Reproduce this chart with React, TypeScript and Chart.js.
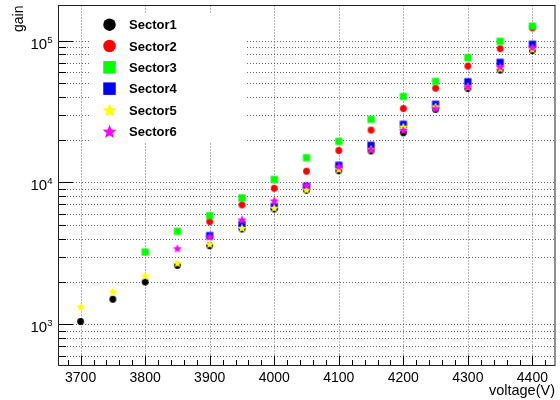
import React, { useEffect, useRef } from "react";
import { Chart, registerables } from "chart.js";

Chart.register(...registerables);

// ---- data ----
const voltages = [3700, 3750, 3800, 3850, 3900, 3950, 4000, 4050, 4100, 4150, 4200, 4250, 4300, 4350, 4400];
const sector1 = [1045, 1500, 1985, 2600, 3580, 4700, 6500, 8800, 12100, 16700, 22400, 32800, 46000, 62000, 85000];
const sector2 = [null, null, null, null, 5300, 6950, 9100, 12000, 16800, 23400, 33200, 46200, 66200, 87800, 123000];
const sector3 = [null, null, 3230, 4520, 5840, 7780, 10500, 14950, 19500, 27900, 40400, 51600, 75800, 99000, 126500];
const sector4 = [null, null, null, null, 4220, 5050, 6750, 9400, 13200, 18300, 25700, 35600, 51300, 70300, 94300];
const sector5 = [1330, 1700, 2200, 2700, 3680, 4780, 6620, 8900, 12400, 17200, 24700, 34300, 47300, 63700, 87000];
const sector6 = [null, null, null, 3430, 4150, 5470, 7450, 9570, 12950, 17100, 23400, 33200, 47500, 65500, 89800];

const seriesNames = ["Sector1", "Sector2", "Sector3", "Sector4", "Sector5", "Sector6"];
const seriesValues = [sector1, sector2, sector3, sector4, sector5, sector6];
const seriesColors = ["#000000", "#ff0000", "#00ff00", "#0000ff", "#ffff00", "#ff00ff"];
const seriesShapes = ["circle", "circle", "square", "square", "star", "star"];

const xTickValues = [3700, 3800, 3900, 4000, 4100, 4200, 4300, 4400];
const xTickLabels = ["3700", "3800", "3900", "4000", "4100", "4200", "4300", "4400"];
const yDecades = [1000, 10000, 100000];
const yDecadeExponents = ["3", "4", "5"];

const X_MIN = 3665;
const X_MAX = 4435;
const Y_MIN = 512;
const Y_MAX = 177000;

const FONT = "'Liberation Sans', Arial, Helvetica, sans-serif";

function markerPath(ctx: CanvasRenderingContext2D, shape: string, x: number, y: number, size: number) {
  ctx.beginPath();
  if (shape === "circle") {
    ctx.arc(x, y, size / 2, 0, Math.PI * 2);
  } else if (shape === "square") {
    ctx.rect(x - size / 2, y - size / 2, size, size);
  } else {
    const R = size / 2;
    const r = R * 0.45;
    for (let k = 0; k < 10; k++) {
      const ang = -Math.PI / 2 + (k * Math.PI) / 5;
      const rad = k % 2 === 0 ? R : r;
      const px = x + rad * Math.cos(ang);
      const py = y + rad * Math.sin(ang) + R * 0.1;
      if (k === 0) ctx.moveTo(px, py);
      else ctx.lineTo(px, py);
    }
    ctx.closePath();
  }
}

function plotSize(shape: string) {
  if (shape === "circle") return 6.8;
  if (shape === "square") return 7.2;
  return 9.5;
}
function legendSize(shape: string) {
  if (shape === "circle") return 12.5;
  if (shape === "square") return 12.5;
  return 14.5;
}

function makeMarkerImage(shape: string, color: string) {
  const s = plotSize(shape);
  const n = Math.ceil(s) + 2;
  const c = document.createElement("canvas");
  c.width = n;
  c.height = n;
  const ctx = c.getContext("2d")!;
  ctx.fillStyle = color;
  markerPath(ctx, shape, n / 2, n / 2, s);
  ctx.fill();
  return c;
}

const framePlugin = {
  id: "rootFrame",
  beforeDraw(chart: any) {
    const ctx = chart.ctx as CanvasRenderingContext2D;
    ctx.save();
    ctx.fillStyle = "#ffffff";
    ctx.fillRect(0, 0, chart.width, chart.height);
    ctx.restore();
  },
  beforeDatasetsDraw(chart: any) {
    const ctx = chart.ctx as CanvasRenderingContext2D;
    const area = chart.chartArea;
    const xs = chart.scales.x;
    const ys = chart.scales.y;
    ctx.save();
    // grid lines
    ctx.strokeStyle = "#666666";
    ctx.lineWidth = 1;
    ctx.setLineDash([1, 2]);
    for (const v of xTickValues) {
      const px = Math.round(xs.getPixelForValue(v)) + 0.5;
      ctx.beginPath();
      ctx.moveTo(px, area.top);
      ctx.lineTo(px, area.bottom);
      ctx.stroke();
    }
    const yGrid: { v: number; major: boolean }[] = [];
    for (const d of [100, 1000, 10000, 100000]) {
      for (let m = 1; m <= 9; m++) {
        const v = d * m;
        if (v >= Y_MIN && v <= Y_MAX) yGrid.push({ v, major: m === 1 });
      }
    }
    for (const g of yGrid) {
      const py = Math.round(ys.getPixelForValue(g.v)) + 0.5;
      ctx.beginPath();
      ctx.moveTo(area.left, py);
      ctx.lineTo(area.right, py);
      ctx.stroke();
    }
    ctx.setLineDash([]);
    ctx.strokeStyle = "#000000";
    // y ticks
    for (const g of yGrid) {
      const py = Math.round(ys.getPixelForValue(g.v)) + 0.5;
      ctx.beginPath();
      ctx.moveTo(area.left, py);
      ctx.lineTo(area.left + (g.major ? 15 : 8), py);
      ctx.stroke();
    }
    // x ticks
    for (let v = 3680; v <= 4420; v += 20) {
      const major = v % 100 === 0;
      const px = Math.round(xs.getPixelForValue(v)) + 0.5;
      ctx.beginPath();
      ctx.moveTo(px, area.bottom);
      ctx.lineTo(px, area.bottom - (major ? 10 : 5.5));
      ctx.stroke();
    }
    // frame
    ctx.strokeStyle = "#222222";
    ctx.strokeRect(area.left + 0.5, area.top, area.right - area.left - 0.5, area.bottom - area.top);
    ctx.restore();
  },
  afterDatasetsDraw(chart: any) {
    const ctx = chart.ctx as CanvasRenderingContext2D;
    const area = chart.chartArea;
    const xs = chart.scales.x;
    const ys = chart.scales.y;
    ctx.save();
    // legend box
    ctx.fillStyle = "#ffffff";
    ctx.fillRect(90, 14, 157, 128);
    const rowH = 128 / seriesNames.length;
    for (let i = 0; i < seriesNames.length; i++) {
      const cy = 14 + rowH / 2 + rowH * i;
      ctx.fillStyle = seriesColors[i];
      markerPath(ctx, seriesShapes[i], 109.5, cy, legendSize(seriesShapes[i]));
      ctx.fill();
      ctx.fillStyle = "#000000";
      ctx.font = `bold 13px ${FONT}`;
      ctx.textAlign = "left";
      ctx.textBaseline = "alphabetic";
      ctx.fillText(seriesNames[i], 129, cy + 4.8);
    }
    // x tick labels
    ctx.fillStyle = "#000000";
    ctx.font = `14px ${FONT}`;
    ctx.textAlign = "center";
    ctx.textBaseline = "alphabetic";
    xTickValues.forEach((v, i) => {
      ctx.fillText(xTickLabels[i], xs.getPixelForValue(v), 381.5);
    });
    // y tick labels
    yDecades.forEach((v, i) => {
      const py = ys.getPixelForValue(v);
      ctx.font = `9.5px ${FONT}`;
      const supW = ctx.measureText(yDecadeExponents[i]).width;
      const rightEdge = 52.5;
      ctx.textAlign = "left";
      ctx.fillText(yDecadeExponents[i], rightEdge - supW, py + 2);
      ctx.font = `15px ${FONT}`;
      ctx.textAlign = "right";
      ctx.fillText("10", rightEdge - supW, py + 8);
    });
    // axis titles
    ctx.font = `14.5px ${FONT}`;
    ctx.textAlign = "right";
    ctx.fillText("voltage(V)", area.right, 394.5);
    ctx.save();
    ctx.translate(22.5, 5.5);
    ctx.rotate(-Math.PI / 2);
    ctx.font = `14px ${FONT}`;
    ctx.textAlign = "right";
    ctx.fillText("gain", 0, 0);
    ctx.restore();
    ctx.restore();
  },
};

export default function App() {
  const canvasRef = useRef<HTMLCanvasElement | null>(null);

  useEffect(() => {
    document.body.style.margin = "0";
    const canvas = canvasRef.current;
    if (!canvas) return;
    const datasets = seriesNames.map((name, i) => {
      const img = makeMarkerImage(seriesShapes[i], seriesColors[i]);
      const data = voltages
        .map((v, j) => ({ x: v, y: seriesValues[i][j] as number | null }))
        .filter((p) => p.y !== null);
      return {
        label: name,
        data,
        order: seriesNames.length - 1 - i,
        showLine: false,
        pointStyle: img,
        pointRadius: 5,
        pointBackgroundColor: seriesColors[i],
        pointBorderColor: seriesColors[i],
        pointBorderWidth: 0,
      };
    });
    const chart = new Chart(canvas, {
      type: "scatter",
      data: { datasets: datasets as any },
      options: {
        animation: false,
        responsive: false,
        devicePixelRatio: 1,
        layout: { padding: { top: 5.5, right: 1.5, left: 0, bottom: 0 } },
        plugins: {
          legend: { display: false },
          tooltip: { enabled: false },
        },
        events: [],
        scales: {
          x: {
            type: "linear",
            min: X_MIN,
            max: X_MAX,
            ticks: { display: false },
            grid: { display: false },
            border: { display: false },
            afterFit: (s: any) => {
              s.height = 34.5;
            },
          },
          y: {
            type: "logarithmic",
            min: Y_MIN,
            max: Y_MAX,
            ticks: { display: false },
            grid: { display: false },
            border: { display: false },
            afterFit: (s: any) => {
              s.width = 58;
            },
          },
        },
      },
      plugins: [framePlugin],
    });
    return () => chart.destroy();
  }, []);

  return (
    <div style={{ position: "absolute", left: 0, top: 0, width: 560, height: 400 }}>
      <canvas ref={canvasRef} width={560} height={400} style={{ width: 560, height: 400, display: "block" }} />
    </div>
  );
}
